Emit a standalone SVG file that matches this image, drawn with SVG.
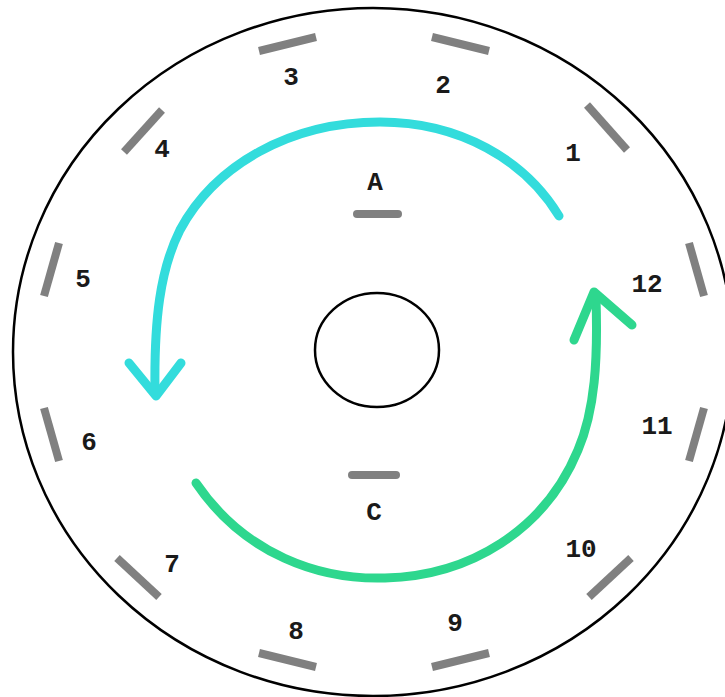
<svg xmlns="http://www.w3.org/2000/svg" width="725" height="697" viewBox="0 0 725 697">
<style>
.tick{stroke:#808080;stroke-width:8;stroke-linecap:butt;fill:none}
.dash{stroke:#808080;stroke-width:8;stroke-linecap:round;fill:none}
.lbl{font-family:"Liberation Mono","Courier New",monospace;font-weight:bold;font-size:26px;fill:#1a1a1a;text-anchor:middle}
.ring{fill:none;stroke:#000;stroke-width:2.5}
.cy{fill:none;stroke:#33DCDC;stroke-width:9;stroke-linecap:round;stroke-linejoin:round}
.gr{fill:none;stroke:#2ED78E;stroke-width:9;stroke-linecap:round;stroke-linejoin:round}
</style>
<rect width="725" height="697" fill="#fff"/>
<g id="disk">
<ellipse class="ring" cx="373" cy="352" rx="360" ry="344"/>
<ellipse class="ring" cx="377" cy="350" rx="62" ry="57"/>
</g>
<g id="ticks">
<line class="tick" x1="432" y1="37" x2="489" y2="51"/>
<line class="tick" x1="587" y1="105" x2="627" y2="150"/>
<line class="tick" x1="689" y1="243" x2="704" y2="296"/>
<line class="tick" x1="704" y1="408" x2="689" y2="461"/>
<line class="tick" x1="631" y1="558" x2="589" y2="597"/>
<line class="tick" x1="489" y1="653" x2="432" y2="667"/>
<line class="tick" x1="316" y1="667" x2="259" y2="653"/>
<line class="tick" x1="159" y1="597" x2="117" y2="558"/>
<line class="tick" x1="59" y1="461" x2="44" y2="408"/>
<line class="tick" x1="44" y1="296" x2="59" y2="243"/>
<line class="tick" x1="124" y1="152" x2="162" y2="110"/>
<line class="tick" x1="259" y1="51" x2="316" y2="37"/>
</g>
<g id="A">
<line class="dash" x1="357" y1="214" x2="398" y2="214"/>
<text class="lbl" x="375" y="190">A</text>
</g>
<g id="C">
<line class="dash" x1="352" y1="475" x2="396" y2="475"/>
<text class="lbl" x="374" y="520">C</text>
</g>
<g id="labels">
<text class="lbl" x="291" y="85">3</text>
<text class="lbl" x="443" y="93">2</text>
<text class="lbl" x="573" y="161">1</text>
<text class="lbl" x="162" y="157">4</text>
<text class="lbl" x="83" y="287">5</text>
<text class="lbl" x="647" y="292">12</text>
<text class="lbl" x="657" y="434">11</text>
<text class="lbl" x="89" y="450">6</text>
<text class="lbl" x="581" y="557">10</text>
<text class="lbl" x="172" y="572">7</text>
<text class="lbl" x="296" y="639">8</text>
<text class="lbl" x="455" y="631">9</text>
</g>
<g id="connectors">
<path class="cy" d="M559,216 C525,160 460,122 380,122 C290,122 215,165 180,230 C160,270 154,320 155,392"/>
<polyline class="cy" points="129,363 156,396 181,363"/>
<path class="gr" d="M196,483 C245,555 320,580 385,578 C470,576 545,530 578,450 C595,410 598,360 596,298"/>
<polyline class="gr" points="574,340 594,292 632,325"/>
</g>
</svg>
